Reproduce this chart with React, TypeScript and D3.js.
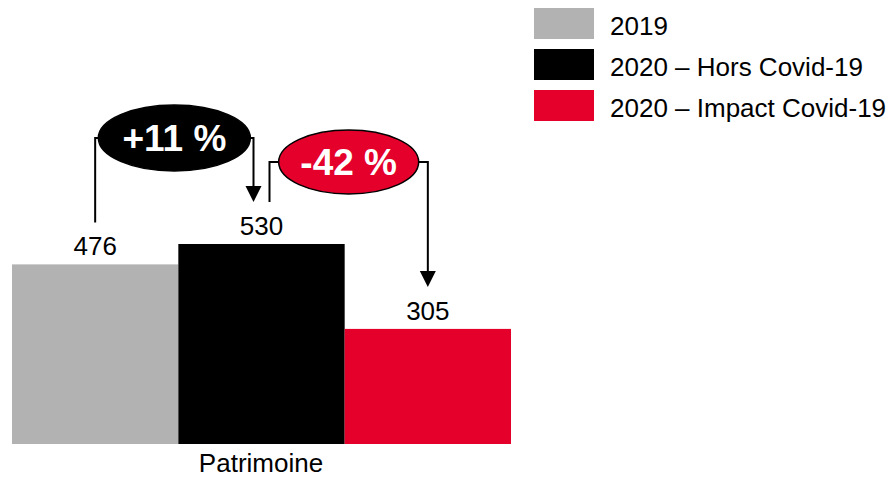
import React from "react";
import * as d3 from "d3";

const series = ["2019", "2020 – Hors Covid-19", "2020 – Impact Covid-19"];
const values = [476, 530, 305];
const colors = ["#B2B2B2", "#000000", "#E4002B"];
const category = "Patrimoine";
const changes = ["+11 %", "-42 %"];
const changeFills = ["#000000", "#E4002B"];

const W = 895;
const H = 482;
const FONT = "Liberation Sans, Arial, sans-serif";

export default function App() {
  const x = d3.scaleBand<number>().domain(d3.range(values.length)).range([12, 511]).padding(0);
  const y = d3.scaleLinear().domain([0, 530]).range([444, 244]);
  const cx = (i: number) => (x(i) as number) + x.bandwidth() / 2;
  const labelBase = (i: number) => y(values[i]) - 9;
  const lineEnd = (i: number) => y(values[i]) - 42;

  // annotation layout
  const ann = [
    { from: 0, to: 1, x1: cx(0), x2: cx(1) - 8, ey: 138, rx: 76, ry: 33 },
    { from: 1, to: 2, x1: cx(1) + 8, x2: cx(2), ey: 162, rx: 70, ry: 32 },
  ];

  return (
    <svg width={W} height={H} style={{ position: "absolute", left: 0, top: 0 }} fontFamily={FONT}>
      {values.map((v, i) => (
        <rect key={i} x={x(i)} y={y(v)} width={x.bandwidth()} height={y(0) - y(v)} fill={colors[i]} />
      ))}
      {values.map((v, i) => (
        <text key={"l" + i} x={cx(i)} y={labelBase(i)} textAnchor="middle" fontSize={26} fill="#000">
          {v}
        </text>
      ))}
      <text x={261} y={472} textAnchor="middle" fontSize={26} fill="#000">{category}</text>

      {ann.map((a, k) => {
        const ecx = (a.x1 + a.x2) / 2;
        const tipY = lineEnd(a.to);
        const path = `M${a.x1},${lineEnd(a.from)} V${a.ey} H${ecx - a.rx} M${ecx + a.rx},${a.ey} H${a.x2} V${tipY - 15}`;
        return (
          <g key={"a" + k}>
            <path d={path} fill="none" stroke="#000" strokeWidth={2} />
            <path d={`M${a.x2 - 8},${tipY - 16} L${a.x2 + 8},${tipY - 16} L${a.x2},${tipY} Z`} fill="#000" />
            <ellipse cx={ecx} cy={a.ey} rx={a.rx} ry={a.ry} fill={changeFills[k]} stroke="#000" strokeWidth={1.5} />
            <text x={ecx} y={a.ey + 13} textAnchor="middle" fontSize={37} fontWeight="bold" fill="#fff">
              {changes[k]}
            </text>
          </g>
        );
      })}

      {series.map((s, i) => (
        <g key={"g" + i} transform={`translate(534, ${8 + i * 41})`}>
          <rect x={0} y={0} width={60} height={31} fill={colors[i]} />
          <text x={76} y={27} fontSize={26} fill="#000">{s}</text>
        </g>
      ))}
    </svg>
  );
}
